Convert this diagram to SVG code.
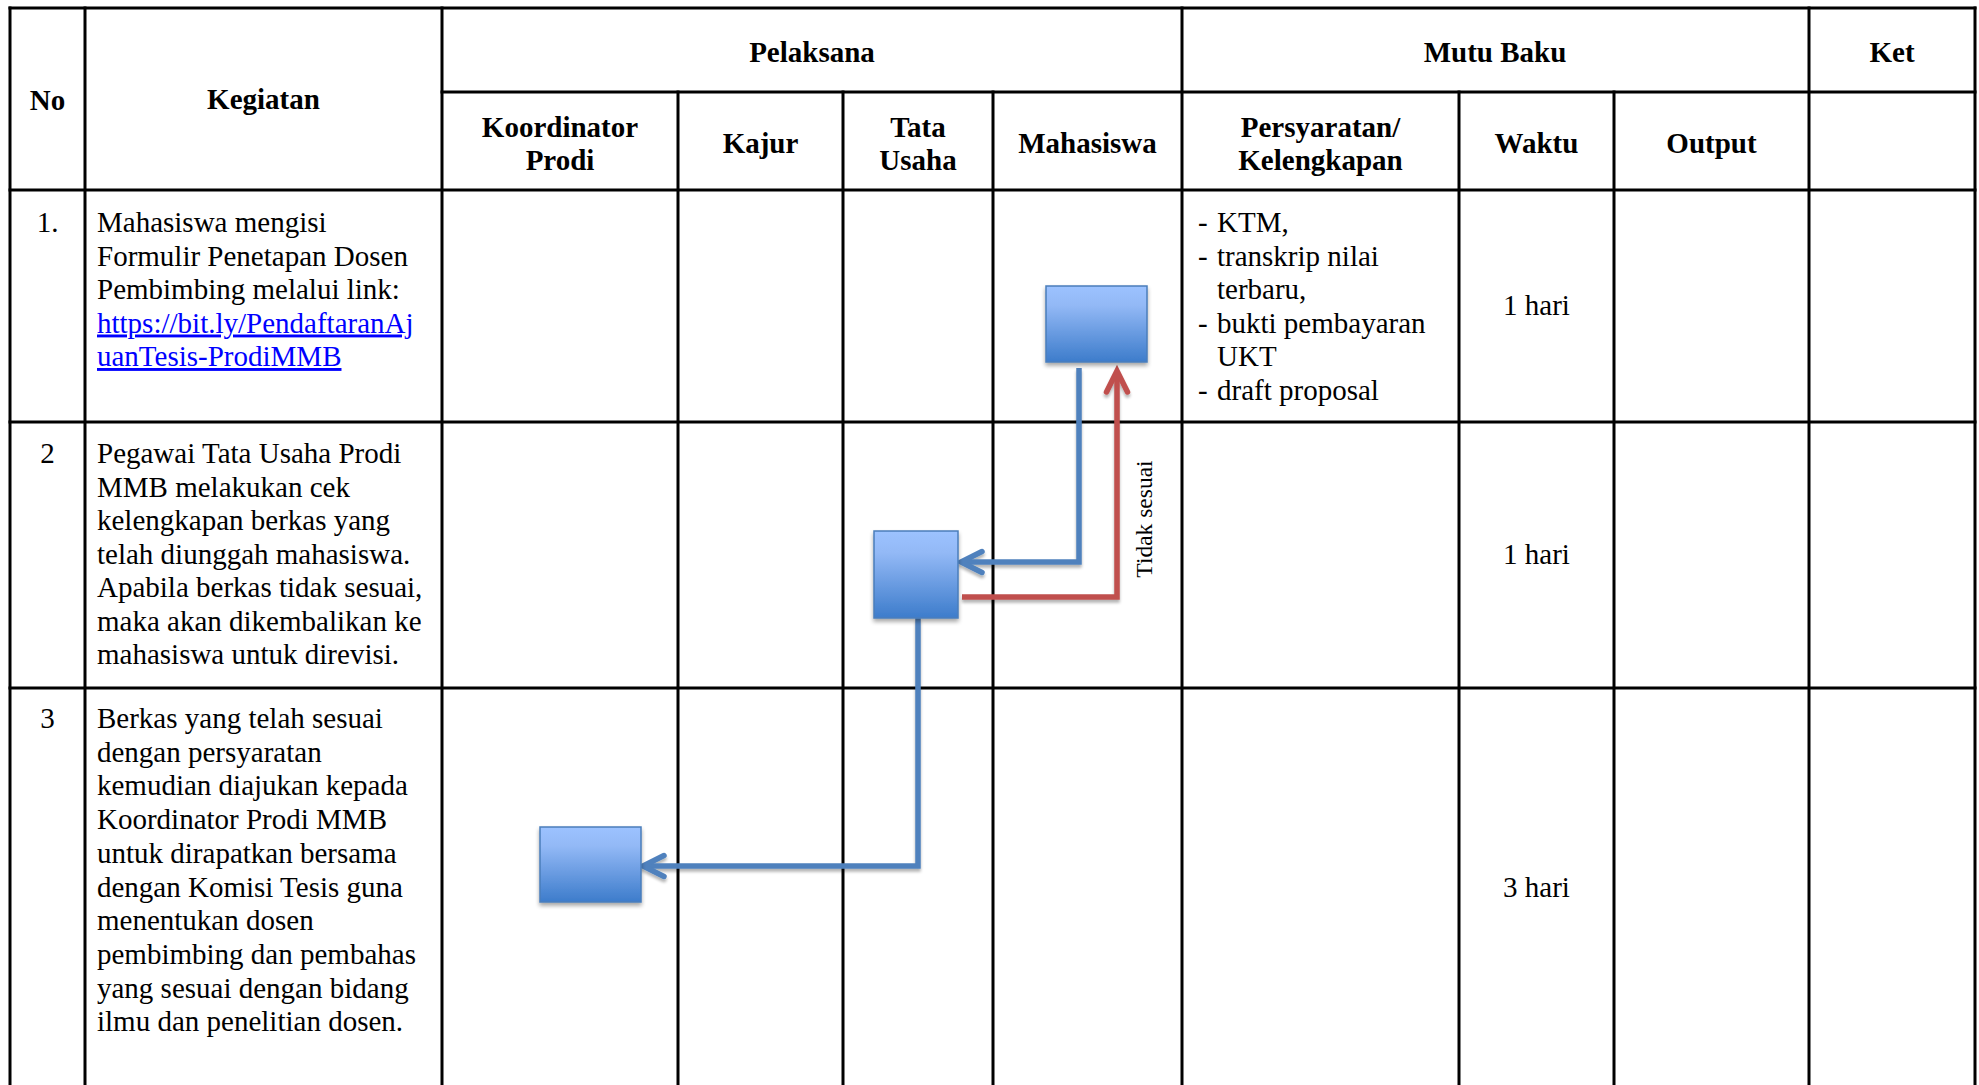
<svg xmlns="http://www.w3.org/2000/svg" width="1979" height="1085" viewBox="0 0 1979 1085">
<style>
  .grid { stroke: #000; stroke-width: 3; fill: none; stroke-linecap: square; }
  .h { font-family: "Liberation Serif", "Times New Roman", serif; font-weight: bold; font-size: 29px; fill: #000; text-anchor: middle; }
  .t { font-family: "Liberation Serif", "Times New Roman", serif; font-size: 29px; fill: #000; }
  .c { text-anchor: middle; }
  .link { fill: #0000FF; text-decoration: underline; }
  .lbl { font-family: "Liberation Serif", "Times New Roman", serif; font-size: 23.5px; fill: #000; text-anchor: middle; }
  .box { fill: url(#boxGrad); stroke: #4A7EBB; stroke-width: 1.5; filter: url(#shadow); }
  .blue { stroke: #4F81BD; stroke-width: 5.5; fill: none; filter: url(#lshadow); }
  .red { stroke: #C0504D; stroke-width: 5.5; fill: none; filter: url(#lshadow); }
</style>
<defs>
  <linearGradient id="boxGrad" x1="0" y1="0" x2="0" y2="1">
    <stop offset="0" stop-color="#9CC2FF"/>
    <stop offset="0.25" stop-color="#93B9F6"/>
    <stop offset="1" stop-color="#3D7CCB"/>
  </linearGradient>
  <filter id="shadow" x="-20%" y="-20%" width="150%" height="150%">
    <feGaussianBlur in="SourceAlpha" stdDeviation="2"/>
    <feOffset dx="0" dy="3" result="b"/>
    <feComponentTransfer><feFuncA type="linear" slope="0.35"/></feComponentTransfer>
    <feMerge><feMergeNode/><feMergeNode in="SourceGraphic"/></feMerge>
  </filter>
  <filter id="lshadow" x="-20%" y="-20%" width="140%" height="140%">
    <feGaussianBlur in="SourceAlpha" stdDeviation="1.5"/>
    <feOffset dx="0" dy="3" result="b"/>
    <feComponentTransfer><feFuncA type="linear" slope="0.3"/></feComponentTransfer>
    <feMerge><feMergeNode/><feMergeNode in="SourceGraphic"/></feMerge>
  </filter>
  <marker id="arrBlue" markerUnits="userSpaceOnUse" markerWidth="32" markerHeight="28" refX="28" refY="14" orient="auto" viewBox="0 0 32 28" overflow="visible">
    <path d="M 7 3.5 L 28 14 L 7 24.5" fill="none" stroke="#4F81BD" stroke-width="5.5" stroke-linecap="round" stroke-linejoin="miter"/>
  </marker>
  <marker id="arrRed" markerUnits="userSpaceOnUse" markerWidth="32" markerHeight="28" refX="28" refY="14" orient="auto" viewBox="0 0 32 28" overflow="visible">
    <path d="M 7 3.5 L 28 14 L 7 24.5" fill="none" stroke="#C0504D" stroke-width="5.5" stroke-linecap="round" stroke-linejoin="miter"/>
  </marker>
</defs>
<rect x="0" y="0" width="1979" height="1085" fill="#fff"/>

<g id="table-grid" class="grid">
  <line x1="10" y1="8" x2="1975" y2="8"/>
  <line x1="442" y1="92" x2="1975" y2="92"/>
  <line x1="10" y1="190" x2="1975" y2="190"/>
  <line x1="10" y1="422" x2="1975" y2="422"/>
  <line x1="10" y1="688" x2="1975" y2="688"/>
  <line x1="10" y1="8" x2="10" y2="1090"/>
  <line x1="85" y1="8" x2="85" y2="1090"/>
  <line x1="442" y1="8" x2="442" y2="1090"/>
  <line x1="678" y1="92" x2="678" y2="1090"/>
  <line x1="843" y1="92" x2="843" y2="1090"/>
  <line x1="993" y1="92" x2="993" y2="1090"/>
  <line x1="1182" y1="8" x2="1182" y2="1090"/>
  <line x1="1459" y1="92" x2="1459" y2="1090"/>
  <line x1="1614" y1="92" x2="1614" y2="1090"/>
  <line x1="1809" y1="8" x2="1809" y2="1090"/>
  <line x1="1975" y1="8" x2="1975" y2="1090"/>
</g>

<g id="headers">
  <text class="h" x="47.5" y="110">No</text>
  <text class="h" x="263.5" y="109">Kegiatan</text>
  <text class="h" x="812" y="62">Pelaksana</text>
  <text class="h" x="1495" y="62">Mutu Baku</text>
  <text class="h" x="1892" y="62">Ket</text>
  <text class="h" x="560" y="137">Koordinator</text>
  <text class="h" x="560" y="170">Prodi</text>
  <text class="h" x="760.5" y="153">Kajur</text>
  <text class="h" x="918" y="137">Tata</text>
  <text class="h" x="918" y="170">Usaha</text>
  <text class="h" x="1087.5" y="153">Mahasiswa</text>
  <text class="h" x="1320.5" y="137">Persyaratan/</text>
  <text class="h" x="1320.5" y="170">Kelengkapan</text>
  <text class="h" x="1536.5" y="153">Waktu</text>
  <text class="h" x="1711.5" y="153">Output</text>
</g>

<g id="row1">
  <text class="t c" x="47.5" y="232">1.</text>
  <text class="t" x="97" y="232">Mahasiswa mengisi</text>
  <text class="t" x="97" y="265.5">Formulir Penetapan Dosen</text>
  <text class="t" x="97" y="299">Pembimbing melalui link:</text>
  <text class="t link" x="97" y="332.5">https://bit.ly/PendaftaranAj</text>
  <text class="t link" x="97" y="366">uanTesis-ProdiMMB</text>
  <text class="t" x="1198" y="232">-</text>
  <text class="t" x="1217" y="232">KTM,</text>
  <text class="t" x="1198" y="265.5">-</text>
  <text class="t" x="1217" y="265.5">transkrip nilai</text>
  <text class="t" x="1217" y="299">terbaru,</text>
  <text class="t" x="1198" y="332.5">-</text>
  <text class="t" x="1217" y="332.5">bukti pembayaran</text>
  <text class="t" x="1217" y="366">UKT</text>
  <text class="t" x="1198" y="399.5">-</text>
  <text class="t" x="1217" y="399.5">draft proposal</text>
  <text class="t c" x="1536.5" y="315">1 hari</text>
</g>

<g id="row2">
  <text class="t c" x="47.5" y="463">2</text>
  <text class="t" x="97" y="463">Pegawai Tata Usaha Prodi</text>
  <text class="t" x="97" y="496.5">MMB melakukan cek</text>
  <text class="t" x="97" y="530">kelengkapan berkas yang</text>
  <text class="t" x="97" y="563.5">telah diunggah mahasiswa.</text>
  <text class="t" x="97" y="597">Apabila berkas tidak sesuai,</text>
  <text class="t" x="97" y="630.5">maka akan dikembalikan ke</text>
  <text class="t" x="97" y="664">mahasiswa untuk direvisi.</text>
  <text class="t c" x="1536.5" y="564">1 hari</text>
</g>

<g id="row3">
  <text class="t c" x="47.5" y="728">3</text>
  <text class="t" x="97" y="728">Berkas yang telah sesuai</text>
  <text class="t" x="97" y="761.7">dengan persyaratan</text>
  <text class="t" x="97" y="795.4">kemudian diajukan kepada</text>
  <text class="t" x="97" y="829.1">Koordinator Prodi MMB</text>
  <text class="t" x="97" y="862.8">untuk dirapatkan bersama</text>
  <text class="t" x="97" y="896.5">dengan Komisi Tesis guna</text>
  <text class="t" x="97" y="930.2">menentukan dosen</text>
  <text class="t" x="97" y="963.9">pembimbing dan pembahas</text>
  <text class="t" x="97" y="997.6">yang sesuai dengan bidang</text>
  <text class="t" x="97" y="1031.3">ilmu dan penelitian dosen.</text>
  <text class="t c" x="1536.5" y="897">3 hari</text>
</g>

<g id="connectors">
  <path class="blue" d="M 1079 368 L 1079 562 L 961 562" marker-end="url(#arrBlue)"/>
  <path class="red" d="M 962 597 L 1117 597 L 1117 371" marker-end="url(#arrRed)"/>
  <path class="blue" d="M 918 618 L 918 866 L 643 866" marker-end="url(#arrBlue)"/>
  <path class="blue" d="M 587 902 L 587 1090"/>
  <text class="lbl" transform="translate(1152,519) rotate(-90)">Tidak sesuai</text>
</g>

<g id="node-mahasiswa-1">
  <rect class="box" x="1046" y="286" width="101" height="76"/>
</g>
<g id="node-tatausaha-2">
  <rect class="box" x="874" y="531" width="84" height="87"/>
</g>
<g id="node-koordinator-3">
  <rect class="box" x="540" y="827" width="101" height="75"/>
</g>
</svg>
